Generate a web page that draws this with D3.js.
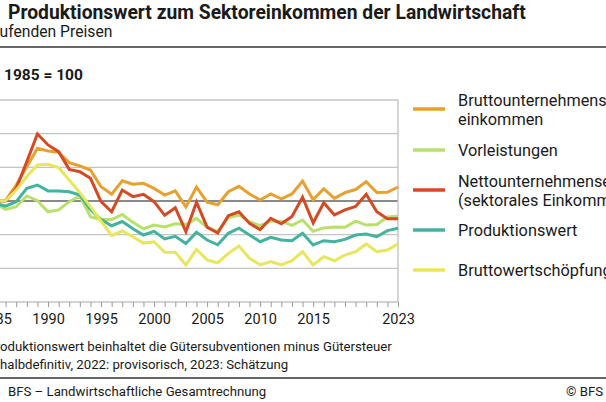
<!DOCTYPE html>
<html>
<head>
<meta charset="utf-8">
<script src="https://cdn.jsdelivr.net/npm/d3@7"></script>
<style>
  html, body { margin: 0; padding: 0; background: #fff; overflow: hidden; }
  svg { display: block; font-family: Roboto, "Noto Sans", sans-serif; }
</style>
</head>
<body>
<div id="chart"></div>
<script>
// Jahre und Indexwerte (1985 = 100)
const years = d3.range(1985, 2024);

const brutto_ue = [100, 100.4, 109.5, 120.4, 131.3, 129.7, 128.9, 122.8, 120.8, 118.4,
  108.5, 104, 112, 110, 110.5, 107.5, 103.5, 106, 96.5, 108.3,
  99.3, 97.8, 105.5, 108.7, 104.2, 100.6, 104.2, 101.3, 104.2, 111.8,
  100.8, 107.3, 101.6, 105, 106.8, 111.5, 105, 105.2, 108.3];

const vorleistungen = [98.6, 95, 96.6, 103, 100.2, 93.6, 94.7, 99.6, 103, 90.7,
  89, 89, 92, 87.3, 83.5, 85.7, 84.6, 86.5, 86, 89.7,
  84.3, 82, 90, 91.7, 87.7, 85.3, 88, 88, 85.5, 88.7,
  82, 84, 84.5, 84.4, 88, 85.7, 86, 90.5, 91];

const netto_ue = [100, 100, 107.5, 123.4, 139.8, 133.3, 129.3, 118.8, 117.4, 113.5,
  99.6, 93.6, 106.5, 102.6, 104, 99.6, 91.5, 96, 81.8, 99.3,
  84.5, 81, 91.3, 93.6, 86.7, 83, 89.7, 86.5, 90.8, 102.2,
  87, 99, 91.7, 94.7, 96.8, 104, 93.6, 89.5, 89.5];

const produktionswert = [98.6, 97, 99.6, 107.5, 109.5, 106, 106, 105.5, 103.6, 95,
  89, 85.3, 87.8, 83.5, 79.8, 82, 77.5, 79, 74.7, 81.5,
  76.8, 74, 80.8, 83.8, 79.8, 75.8, 78.4, 76.8, 76.4, 80.8,
  73.9, 76.4, 75.8, 77.2, 79.8, 80.4, 78.8, 82.4, 83.8];

const bws = [100, 100.3, 106.5, 114.5, 121.4, 121.8, 119.8, 112.5, 105, 96.6,
  88, 79.5, 82.2, 78.8, 75, 75.8, 69.5, 69.5, 62, 71.3,
  65, 63.3, 68.9, 73.3, 66, 62, 64, 62, 64.5, 69.9,
  62, 66.9, 64.5, 67.9, 69.9, 74.5, 69.9, 70.9, 74.5];

const y_ticks = [40, 60, 80, 100, 120, 140, 160];
const x_tick_labels = [1985, 1990, 1995, 2000, 2005, 2010, 2015, 2023];

const series = [
  { label: ["Bruttounternehmens-", "einkommen"], values: brutto_ue, color: "#e8a02f" },
  { label: ["Vorleistungen"], values: vorleistungen, color: "#b9e06a" },
  { label: ["Nettounternehmenseinkommen", "(sektorales Einkommen)"], values: netto_ue, color: "#d54a23" },
  { label: ["Produktionswert"], values: produktionswert, color: "#43b39f" },
  { label: ["Bruttowertschöpfung"], values: bws, color: "#e7e65c" },
];

const width = 606, height = 402;
const text_color = "#1a1a1a";

const svg = d3.select("#chart").append("svg")
  .attr("width", width)
  .attr("height", height);

// Text, dessen Anfang links im Ausschnitt abgeschnitten ist:
// das sichtbare Stück beginnt bei visible_x
const clippedText = (g, full, prefix, visible_x, y, size, weight) => {
  const t = g.append("text")
    .attr("y", y)
    .attr("fill", text_color)
    .attr("font-size", size)
    .attr("font-weight", weight || "normal")
    .text(full);
  const off = prefix.length ? t.node().getSubStringLength(0, prefix.length) : 0;
  t.attr("x", visible_x - off);
  return t;
}

// Kopf
clippedText(svg, "Produktionswert zum Sektoreinkommen der Landwirtschaft", "", 8, 19, 19.3, "bold");
clippedText(svg, "Zu laufenden Preisen", "Zu la", -0.5, 37, 15.7);
svg.append("line")
  .attr("x1", 0).attr("x2", width)
  .attr("y1", 47).attr("y2", 47)
  .attr("stroke", "#333").attr("stroke-width", 1.5);
clippedText(svg, "1985 = 100", "", 4, 80, 15.5, "bold");

// Skalen
const x = d3.scaleLinear().domain([1985, 2023]).range([-5, 398]);
const y = d3.scaleLinear().domain([40, 160]).range([302, 100]);

// Gitter
svg.append("g")
  .selectAll("line")
  .data(y_ticks)
  .join("line")
  .attr("x1", x(1985)).attr("x2", x(2023))
  .attr("y1", d => y(d)).attr("y2", d => y(d))
  .attr("stroke", d => d === 100 ? "#8a8a8a" : "#c4c4c4")
  .attr("stroke-width", d => d === 100 ? 1.8 : 1.4);

svg.append("line")
  .attr("x1", x(2023)).attr("x2", x(2023))
  .attr("y1", y(160)).attr("y2", y(40))
  .attr("stroke", "#c4c4c4").attr("stroke-width", 1.4);

// x-Achse
const x_axis = d3.axisBottom(x)
  .tickValues(years)
  .tickSize(5)
  .tickFormat(d => x_tick_labels.includes(d) ? d : "");

const xg = svg.append("g")
  .attr("transform", `translate(0, ${y(40)})`)
  .call(x_axis);
xg.select(".domain").remove();
xg.selectAll(".tick line").attr("stroke", "#9a9a9a").attr("stroke-width", 1);
xg.selectAll(".tick text")
  .attr("font-family", "Roboto, sans-serif")
  .attr("font-size", 14.5)
  .attr("fill", text_color)
  .attr("dy", 0)
  .attr("y", 22);

// Linien
const line = d3.line()
  .x((d, i) => x(years[i]))
  .y(d => y(d));

svg.append("g")
  .selectAll("path")
  .data(series)
  .join("path")
  .attr("d", d => line(d.values))
  .attr("fill", "none")
  .attr("stroke", d => d.color)
  .attr("stroke-width", 3)
  .attr("stroke-linejoin", "miter");

// Legende
const legend_y = [109, 150, 190, 230, 270];
const legend = svg.append("g")
  .selectAll("g")
  .data(series)
  .join("g")
  .attr("transform", (d, i) => `translate(413, ${legend_y[i]})`);

legend.append("line")
  .attr("x1", 0).attr("x2", 32)
  .attr("stroke", d => d.color)
  .attr("stroke-width", 3.5);

legend.append("text")
  .attr("font-size", 16.3)
  .attr("fill", text_color)
  .selectAll("tspan")
  .data(d => d.label.map((t, k) => ({ t, k, n: d.label.length })))
  .join("tspan")
  .attr("x", 45)
  .attr("y", d => d.n === 1 ? 6 : (d.k === 0 ? -3 : 16))
  .text(d => d.t);

// Fussnoten und Quelle
clippedText(svg, "¹ Produktionswert beinhaltet die Gütersubventionen minus Gütersteuer", "¹ Pr", 0, 351, 13.2);
clippedText(svg, "2021: halbdefinitiv, 2022: provisorisch, 2023: Schätzung", "2021: ", 0, 369, 13.2);
svg.append("line")
  .attr("x1", 0).attr("x2", width)
  .attr("y1", 378).attr("y2", 378)
  .attr("stroke", "#333").attr("stroke-width", 1.5);
clippedText(svg, "BFS – Landwirtschaftliche Gesamtrechnung", "", 8, 396, 13.2);
svg.append("text")
  .attr("x", 603)
  .attr("y", 396)
  .attr("text-anchor", "end")
  .attr("font-size", 13.2)
  .attr("fill", text_color)
  .text("© BFS");
</script>
</body>
</html>
